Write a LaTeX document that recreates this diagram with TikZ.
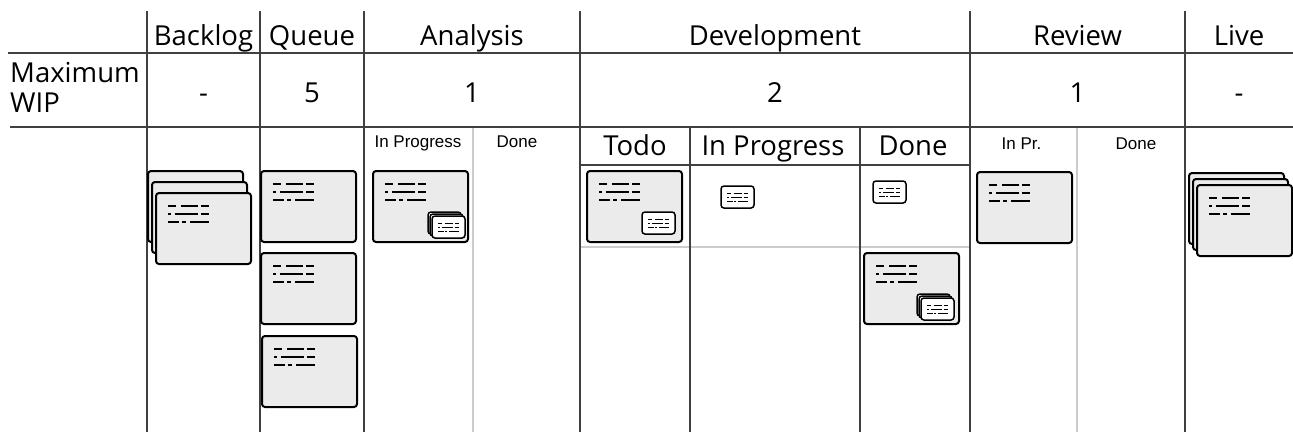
\documentclass[tikz,border=0pt]{standalone}
\usepackage{fontspec}
\setmainfont{Open Sans}
\newfontfamily\subfont{Liberation Sans}
\usetikzlibrary{positioning}

% three rows of dashes, as written on a card
\newcommand{\textlines}{%
  \draw (0,0) -- (8,0) (13,0) -- (30,0) (33,0) -- (41,0)
        (0,8) -- (3,8) (7,8) -- (30,8) (33,8) -- (41,8)
        (0,16) -- (11,16) (14,16) -- (18,16) (22,16) -- (41,16);}
\newcommand{\card}[2]{%
  \draw[cardbox] (#1,#2) rectangle +(95,71);
  \begin{scope}[shift={(#1+12,#2+13)},cardtext] \textlines \end{scope}}
\newcommand{\minicard}[2]{%
  \draw[minibox] (#1,#2) rectangle +(33,22);
  \begin{scope}[shift={(#1+6,#2+7)},scale=0.5,minitext] \textlines \end{scope}}
\newcommand{\ministack}[2]{%
  \minicard{#1-4}{#2-4}\minicard{#1-2}{#2-2}\minicard{#1}{#2}}

\begin{document}
\begin{tikzpicture}[x=1pt,y=-1pt,
    board/.style={draw=black!75,line width=1.2pt},
    subline/.style={draw=black!20,line width=1.5pt},
    cardbox/.style={draw=black,fill=black!8,line width=2pt,rounded corners=3pt},
    cardtext/.style={line width=2.6pt},
    minibox/.style={draw=black,fill=white,line width=1.5pt,rounded corners=3pt},
    minitext/.style={line width=1pt},
    head/.style={inner sep=0pt,font=\fontsize{27.5}{30}\selectfont},
    sub/.style={inner sep=0pt,font=\subfont\fontsize{17}{20}\selectfont}]
  \useasboundingbox (0,0) rectangle (1293,432);

  % lanes
  \draw[subline] (473,127) -- (473,432) (1077,127) -- (1077,432) (580,247) -- (970,247);
  \draw[board] (8,53) -- (1293,53) (10,127) -- (1293,127);
  \foreach \x in {147,260,364,580,970,1185}
    \draw[board] (\x,11) -- (\x,432);
  \draw[board] (580,165) -- (970,165) (690,127) -- (690,432) (860,127) -- (860,432);

  % column titles
  \node[head,anchor=base] (backlog) at (203.5,45) {Backlog};
  \node[head,anchor=base] (queue) at (312,45) {Queue};
  \node[head,anchor=base] (analysis) at (472,45) {Analysis};
  \node[head,anchor=base] (development) at (775,45) {Development};
  \node[head,anchor=base] (review) at (1077.5,45) {Review};
  \node[head,anchor=base] (live) at (1239,45) {Live};

  % limits
  \node[head,anchor=base west] (maxlabel) at (10,82) {Maximum};
  \node[head,anchor=base west] (wiplabel) at (10,112) {WIP};
  \node[head,anchor=base] (wipbacklog) at (203.5,102) {-};
  \node[head,anchor=base] (wipqueue) at (312,102) {5};
  \node[head,anchor=base] (wipanalysis) at (472,102) {1};
  \node[head,anchor=base] (wipdev) at (775,102) {2};
  \node[head,anchor=base] (wipreview) at (1077.5,102) {1};
  \node[head,anchor=base] (wiplive) at (1239,102) {-};

  % sub columns
  \node[sub,anchor=base] (anaprog) at (418,147) {In Progress};
  \node[sub,anchor=base] (anadone) at (517,147) {Done};
  \node[head,anchor=base] (devtodo) at (635,155) {Todo};
  \node[head,anchor=base] (devprog) at (773,155) {In Progress};
  \node[head,anchor=base] (devdone) at (913,155) {Done};
  \node[sub,anchor=base] (revprog) at (1021.5,149) {In Pr.};
  \node[sub,anchor=base] (revdone) at (1136,149) {Done};

  % cards
  \card{148}{171}\card{152}{182}\card{156}{193}
  \card{261}{171}
  \card{261}{253}
  \card{262}{336}
  \card{373}{171}\ministack{432}{216}
  \card{587}{171}\minicard{642}{212}
  \minicard{721}{186}
  \minicard{873}{181}
  \card{864}{253}\ministack{921}{298}
  \card{977}{172}
  \card{1189}{173}\card{1193}{179}\card{1197}{185}
\end{tikzpicture}
\end{document}
